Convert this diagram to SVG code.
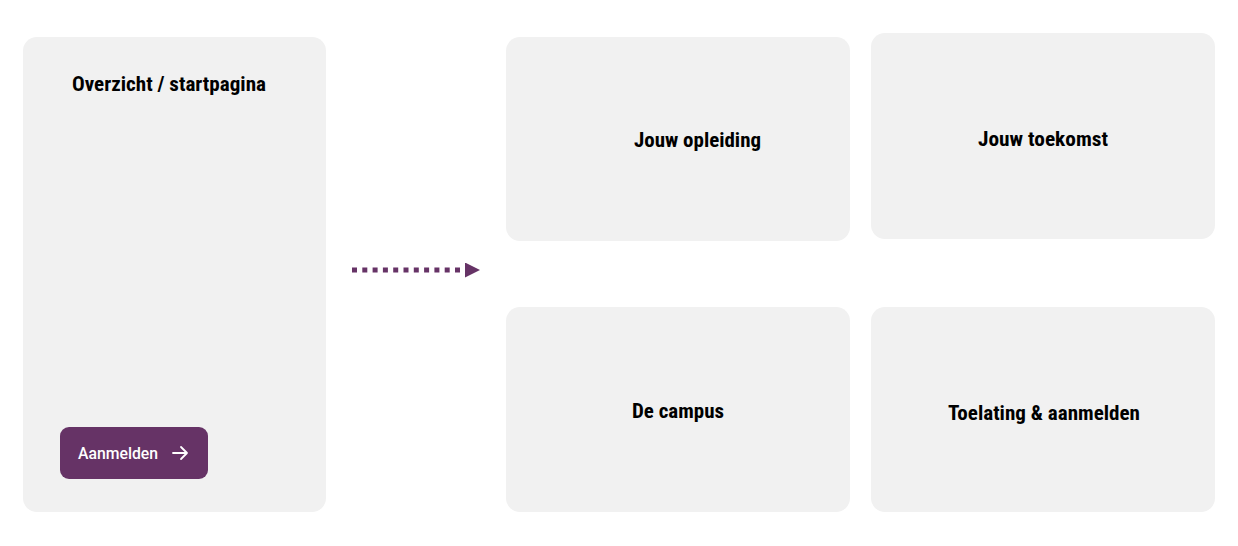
<svg xmlns="http://www.w3.org/2000/svg" width="1238" height="546" viewBox="0 0 1238 546">
<style>
.card{fill:#f1f1f1}
.t{font-family:"Roboto","Liberation Sans",sans-serif;font-weight:700;font-size:20px;fill:#000;font-stretch:condensed}
.bt{font-family:"Roboto","Liberation Sans",sans-serif;font-weight:500;font-size:17px;fill:#fff}
</style>
<defs>
<marker id="ah" markerWidth="16" markerHeight="15" refX="0" refY="7.5" orient="auto" markerUnits="userSpaceOnUse">
<path d="M0,0 L15,7.5 L0,15 Z" fill="#663366"/>
</marker>
</defs>
<rect width="1238" height="546" fill="#fff"/>
<g id="start">
<rect class="card" x="23" y="37" width="303" height="475" rx="14"/>
<text class="t" x="72" y="91" textLength="194" lengthAdjust="spacingAndGlyphs">Overzicht / startpagina</text>
<g id="btn">
<rect x="60" y="427" width="148" height="52" rx="9" fill="#663366"/>
<text class="bt" x="78" y="459" textLength="80" lengthAdjust="spacingAndGlyphs">Aanmelden</text>
<path d="M173,453 H187 M181,447 L187,453 L181,459" fill="none" stroke="#fff" stroke-width="1.8" stroke-linecap="round" stroke-linejoin="round"/>
</g>
</g>
<g id="connectors">
<line x1="352" y1="270" x2="465" y2="270" stroke="#663366" stroke-width="5" stroke-dasharray="5 5.3" marker-end="url(#ah)"/>
</g>
<g id="opleiding">
<rect class="card" x="506" y="37" width="344" height="204" rx="14"/>
<text class="t" x="634" y="147" textLength="127" lengthAdjust="spacingAndGlyphs">Jouw opleiding</text>
</g>
<g id="toekomst">
<rect class="card" x="871" y="33" width="344" height="206" rx="14"/>
<text class="t" x="978" y="146" textLength="130" lengthAdjust="spacingAndGlyphs">Jouw toekomst</text>
</g>
<g id="campus">
<rect class="card" x="506" y="307" width="344" height="205" rx="14"/>
<text class="t" x="632" y="418" textLength="92" lengthAdjust="spacingAndGlyphs">De campus</text>
</g>
<g id="toelating">
<rect class="card" x="871" y="307" width="344" height="205" rx="14"/>
<text class="t" x="948" y="420" textLength="192" lengthAdjust="spacingAndGlyphs">Toelating &amp; aanmelden</text>
</g>
</svg>
